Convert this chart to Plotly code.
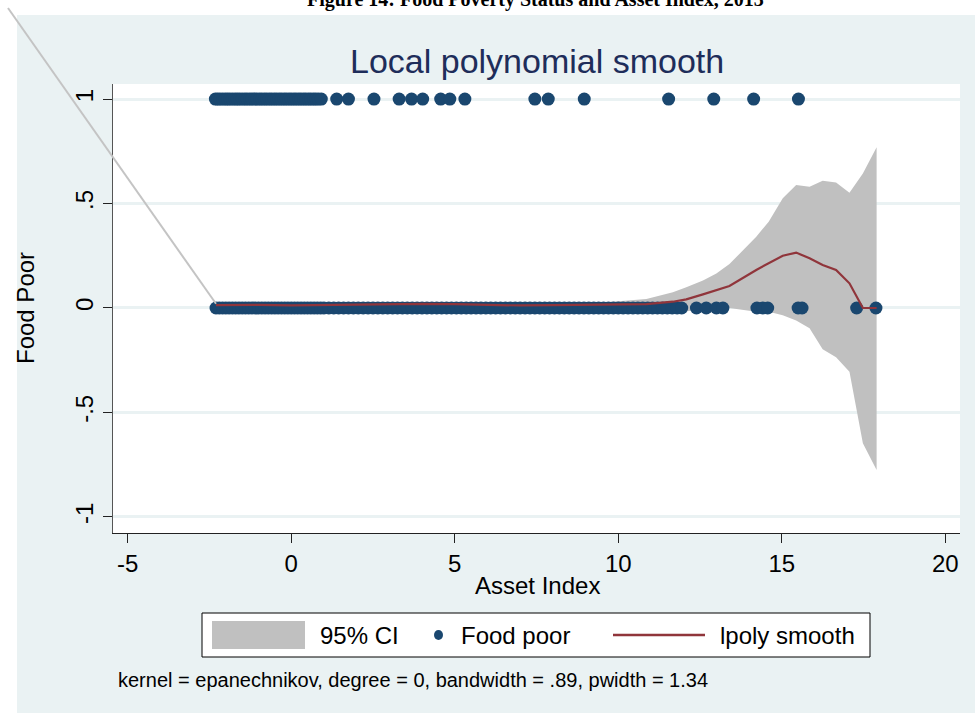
import plotly.graph_objects as go

# ---- data -------------------------------------------------------------
# asset index of households that are food poor (y = 1)
poor_x = [-2.32, -2.25, -2.18, -2.1, -2.02, -1.95, -1.88, -1.8, -1.72, -1.65,
          -1.58, -1.5, -1.42, -1.35, -1.27, -1.2, -1.12, -1.05, -0.97, -0.9,
          -0.82, -0.75, -0.67, -0.6, -0.52, -0.45, -0.37, -0.3, -0.22, -0.15,
          -0.07, 0.0, 0.08, 0.15, 0.23, 0.3, 0.38, 0.45, 0.53, 0.6, 0.68,
          0.75, 0.83, 0.92, 1.39, 1.75, 2.53, 3.3, 3.68, 4.02, 4.57, 4.85,
          5.31, 7.45, 7.86, 8.96, 11.54, 12.92, 14.14, 15.51]
# asset index of households that are not food poor (y = 0)
nonpoor_x = [-2.3, -2.2, -2.1, -2.0, -1.9, -1.8, -1.7, -1.6, -1.5, -1.4, -1.3,
             -1.2, -1.1, -1.0, -0.9, -0.8, -0.7, -0.6, -0.5, -0.4, -0.3, -0.2,
             -0.1, 0.0, 0.1, 0.2, 0.3, 0.4, 0.5, 0.6, 0.7, 0.8, 0.9, 1.0, 1.15,
             1.3, 1.45, 1.6, 1.75, 1.9, 2.05, 2.2, 2.35, 2.5, 2.65, 2.8, 2.95,
             3.1, 3.25, 3.4, 3.55, 3.7, 3.85, 4.0, 4.15, 4.3, 4.45, 4.6, 4.75,
             4.9, 5.05, 5.2, 5.35, 5.5, 5.65, 5.8, 5.95, 6.1, 6.25, 6.4, 6.55,
             6.7, 6.85, 7.0, 7.15, 7.3, 7.45, 7.6, 7.75, 7.9, 8.05, 8.2, 8.35,
             8.5, 8.65, 8.8, 8.95, 9.1, 9.25, 9.4, 9.55, 9.7, 9.85, 10.0,
             10.15, 10.3, 10.45, 10.6, 10.75, 10.9, 11.05, 11.2, 11.35, 11.5,
             11.65, 11.8, 11.94, 12.39, 12.69, 13.0, 13.2, 14.24, 14.42, 14.57,
             15.5, 15.62, 17.29, 17.88]

# local polynomial smooth and its 95% confidence band
grid_x = [-2.3, -1.0, 0.0, 1.0, 2.0, 3.0, 4.0, 5.0, 6.0, 7.0, 8.0, 9.0, 9.43,
          10.86, 11.67, 12.08, 12.59, 13.0, 13.4, 14.22, 14.6, 15.03, 15.44,
          15.85, 16.25, 16.66, 17.07, 17.48, 17.9]
smooth_y = [0.014, 0.015, 0.012, 0.014, 0.016, 0.018, 0.02, 0.018, 0.014,
            0.012, 0.014, 0.016, 0.014, 0.018, 0.03, 0.041, 0.065, 0.086,
            0.105, 0.182, 0.215, 0.25, 0.265, 0.238, 0.206, 0.182, 0.118,
            0.0, 0.0]
ci_upper = [0.02, 0.02, 0.018, 0.02, 0.022, 0.025, 0.027, 0.025, 0.021,
            0.02, 0.023, 0.026, 0.025, 0.043, 0.075, 0.099, 0.131, 0.165,
            0.21, 0.341, 0.413, 0.525, 0.589, 0.58, 0.609, 0.6, 0.552,
            0.644, 0.769]
ci_lower = [0.008, 0.01, 0.006, 0.008, 0.01, 0.011, 0.013, 0.011, 0.007,
            0.004, 0.005, 0.006, 0.003, -0.007, -0.015, -0.017, -0.001,
            0.007, 0.0, -0.018, -0.018, -0.035, -0.06, -0.097, -0.198,
            -0.236, -0.305, -0.647, -0.775]

x_ticks = [-5, 0, 5, 10, 15, 20]
x_tick_text = ["-5", "0", "5", "10", "15", "20"]
y_ticks = [-1, -0.5, 0, 0.5, 1]
y_tick_text = ["-1", "-.5", "0", ".5", "1"]

legend_labels = ["95% CI", "Food poor", "lpoly smooth"]

# ---- styling ----------------------------------------------------------
W, H = 975, 713
M_L, M_R, M_T, M_B = 113, 15, 84, 180
X_RANGE = [-5.45, 20.45]
Y_RANGE = [-1.077, 1.072]
BG = "#eaf2f3"
NAVY = "#1a476f"
MAROON = "#90353b"
CI_GRAY = "#c0c0c0"
FONT = "Liberation Sans, Arial, sans-serif"

plot_w = W - M_L - M_R
plot_h = H - M_T - M_B


def px_to_paper_x(px):
    return (px - M_L) / plot_w


def px_to_paper_y(py):
    return (H - M_B - py) / plot_h


def data_to_paper_x(v):
    return (v - X_RANGE[0]) / (X_RANGE[1] - X_RANGE[0])


def data_to_paper_y(v):
    return (v - Y_RANGE[0]) / (Y_RANGE[1] - Y_RANGE[0])


def paper_rect(x0, y0, x1, y1, fill, line=None, layer="above"):
    return dict(type="rect", xref="paper", yref="paper",
                x0=px_to_paper_x(x0), x1=px_to_paper_x(x1),
                y0=px_to_paper_y(y1), y1=px_to_paper_y(y0),
                fillcolor=fill, line=line or dict(width=0), layer=layer)


fig = go.Figure()

fig.add_trace(go.Scatter(
    x=grid_x + grid_x[::-1],
    y=ci_upper + ci_lower[::-1],
    fill="toself", fillcolor=CI_GRAY, mode="lines",
    line=dict(width=0, color=CI_GRAY),
    name=legend_labels[0], hoverinfo="skip",
))
fig.add_trace(go.Scatter(
    x=poor_x + nonpoor_x,
    y=[1] * len(poor_x) + [0] * len(nonpoor_x),
    mode="markers", marker=dict(size=13, color=NAVY, line=dict(width=0)),
    name=legend_labels[1], cliponaxis=False,
))
fig.add_trace(go.Scatter(
    x=grid_x, y=smooth_y, mode="lines",
    line=dict(color=MAROON, width=2.2),
    name=legend_labels[2],
))

LEG_Y = 635  # vertical centre of the key row, in pixels
shapes = [
    # white page strips around the graph region
    paper_rect(-5, -5, W + 5, 15, "white", layer="below"),
    paper_rect(-5, -5, 17, H + 5, "white", layer="below"),
    # stray edge of the confidence band polygon
    dict(type="line", xref="paper", yref="paper",
         x0=px_to_paper_x(8), y0=px_to_paper_y(8),
         x1=data_to_paper_x(grid_x[0]), y1=data_to_paper_y(ci_upper[0]),
         line=dict(color="#c4c4c4", width=2), layer="above"),
    # key box and its symbols
    paper_rect(202, 613, 870, 657, "white", dict(color="black", width=1)),
    paper_rect(212, 621, 305, 649, CI_GRAY),
    dict(type="circle", xref="paper", yref="paper",
         x0=px_to_paper_x(434), x1=px_to_paper_x(443),
         y0=px_to_paper_y(LEG_Y + 5), y1=px_to_paper_y(LEG_Y - 5),
         fillcolor=NAVY, line=dict(width=0), layer="above"),
    dict(type="line", xref="paper", yref="paper",
         x0=px_to_paper_x(613), x1=px_to_paper_x(705),
         y0=px_to_paper_y(LEG_Y), y1=px_to_paper_y(LEG_Y),
         line=dict(color=MAROON, width=2.5), layer="above"),
]

annotations = [
    dict(text="<b>Figure 14: Food Poverty Status and Asset Index, 2013</b>",
         xref="paper", yref="paper", x=px_to_paper_x(535), y=px_to_paper_y(13),
         xanchor="center", yanchor="bottom", showarrow=False,
         font=dict(family="Liberation Serif, Times New Roman, serif",
                   size=20, color="black")),
    dict(text="Local polynomial smooth", xref="paper", yref="paper",
         x=px_to_paper_x(537), y=px_to_paper_y(61),
         xanchor="center", yanchor="middle", showarrow=False,
         font=dict(family=FONT, size=34, color="#1e2d5a")),
    dict(text="Food Poor", xref="paper", yref="paper",
         x=px_to_paper_x(25), y=px_to_paper_y(308), textangle=-90,
         xanchor="center", yanchor="middle", showarrow=False,
         font=dict(family=FONT, size=24, color="black")),
    dict(text="Asset Index", xref="paper", yref="paper",
         x=px_to_paper_x(537), y=px_to_paper_y(585),
         xanchor="center", yanchor="middle", showarrow=False,
         font=dict(family=FONT, size=24, color="black")),
    dict(text="kernel = epanechnikov, degree = 0, bandwidth = .89, pwidth = 1.34",
         xref="paper", yref="paper",
         x=px_to_paper_x(116), y=px_to_paper_y(680),
         xanchor="left", yanchor="middle", showarrow=False,
         font=dict(family=FONT, size=20, color="black")),
]
# key labels
for label, left in zip(legend_labels, [318, 459, 718]):
    annotations.append(dict(
        text=label, xref="paper", yref="paper",
        x=px_to_paper_x(left), y=px_to_paper_y(LEG_Y),
        xanchor="left", yanchor="middle", showarrow=False,
        font=dict(family=FONT, size=24, color="black")))

fig.update_layout(
    width=W, height=H,
    margin=dict(l=M_L, r=M_R, t=M_T, b=M_B, pad=0),
    paper_bgcolor=BG, plot_bgcolor="white",
    font=dict(family=FONT, size=24, color="black"),
    showlegend=False,
    shapes=shapes, annotations=annotations,
)

fig.update_xaxes(
    range=X_RANGE, tickvals=x_ticks, ticktext=x_tick_text,
    ticks="outside", ticklen=9,
    tickcolor="#222", tickwidth=1, showline=True, linecolor="#222",
    linewidth=1.3, showgrid=False, zeroline=False,
    tickfont=dict(family=FONT, size=24, color="black"),
)
fig.update_yaxes(
    range=Y_RANGE, tickvals=y_ticks, ticktext=y_tick_text, tickangle=-90,
    ticks="outside", ticklen=9, tickcolor="#222", tickwidth=1,
    showline=True, linecolor="#555", linewidth=1.3,
    showgrid=True, gridcolor=BG, gridwidth=2.5, zeroline=False,
    tickfont=dict(family=FONT, size=24, color="black"),
)

fig.write_html("out.html")
